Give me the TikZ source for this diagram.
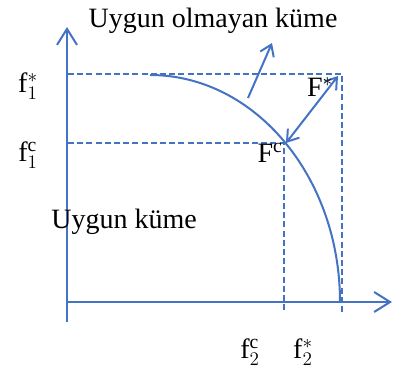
\documentclass[tikz,border=0pt]{standalone}
\usepackage{fontspec}
\setmainfont{Liberation Serif}
\usetikzlibrary{arrows.meta}
\definecolor{lineblue}{RGB}{68,114,196}
\tikzset{
  guide/.style={lineblue, line width=1.4pt, dash pattern=on 4.5pt off 2.4pt},
  axisline/.style={lineblue, line width=1.5pt, -{Straight Barb[length=12pt,width=15pt]}},
  dirarrow/.style={lineblue, line width=1.5pt, -{Straight Barb[length=8pt,width=11pt]}},
  dblarrow/.style={lineblue, line width=1.5pt,
    {Straight Barb[length=8pt,width=11pt]}-{Straight Barb[length=8pt,width=11pt]}},
  lbl/.style={font=\fontsize{21}{25}\selectfont, inner sep=0pt}
}
\begin{document}
\begin{tikzpicture}[x=0.75pt, y=-0.75pt]
  \useasboundingbox (0,0) rectangle (393,372);
  % axes
  \coordinate (O) at (67,302);
  \coordinate (ybot) at (67,322);   \coordinate (ytip) at (67,27);
  \coordinate (xtip) at (392,302);
  \draw[axisline] (ybot) -- (ytip);
  \draw[axisline] (O) -- (xtip);
  % ideal and compromise points
  \coordinate (Fstar) at (342,74);  \coordinate (Fcomp) at (284,143);
  \draw[guide] (68,74) -- (Fstar) -- (342,313);
  \draw[guide] (68,143) -- (Fcomp) -- (284,313);
  % front of the feasible set
  \coordinate (front0) at (150,75); \coordinate (front1) at (340,302);
  \draw[lineblue, line width=1.5pt] (front0) .. controls (255,75) and (340,177) .. (front1);
  \coordinate (dir0) at (248,98);   \coordinate (dir1) at (272,43);
  \draw[dirarrow] (dir0) -- (dir1);
  \coordinate (dst0) at (286,143);  \coordinate (dst1) at (338,76);
  \draw[dblarrow] (dst0) -- (dst1);
  % labels
  \node[lbl, anchor=base] (infeas) at (213,27) {Uygun olmayan küme};
  \node[lbl, anchor=base] (feas) at (124,228) {Uygun küme};
  \node[lbl] (f1s) at (28,86) {f$_1^*$};
  \node[lbl] (f1c) at (28,155) {f$_1^{\mathrm{c}}$};
  \node[lbl] (f2c) at (250,352) {f$_2^{\mathrm{c}}$};
  \node[lbl] (f2s) at (303,352) {f$_2^*$};
  \node[lbl] (Fs) at (320,87) {F$^*$};
  \node[lbl] (Fc) at (270,153) {F$^{\mathrm{c}}$};
\end{tikzpicture}
\end{document}
